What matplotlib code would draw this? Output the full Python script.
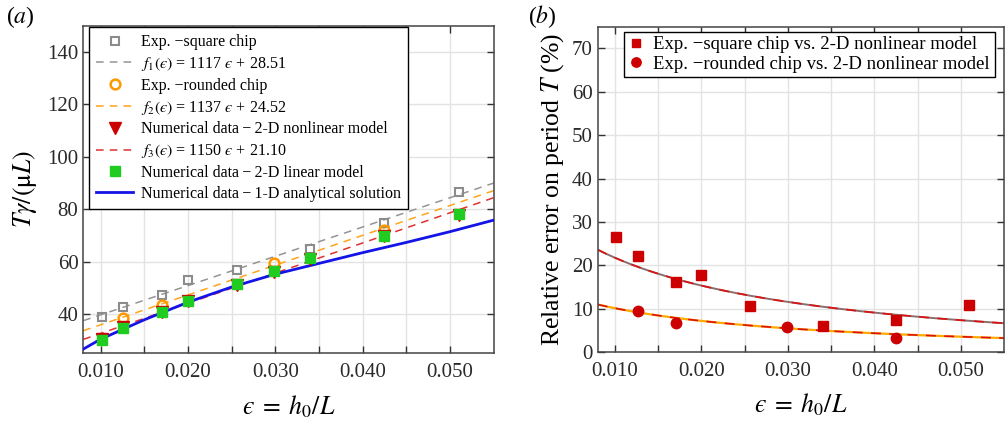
import matplotlib
matplotlib.use("Agg")
import matplotlib.pyplot as plt
import numpy as np

plt.rcParams["font.family"] = ["Liberation Serif", "DejaVu Serif"]
plt.rcParams["mathtext.fontset"] = "stix"

# data
eps_sq = [0.0101, 0.0126, 0.0170, 0.0200, 0.0256, 0.0340, 0.0425, 0.0510]
T_sq = [38.7, 42.8, 47.3, 52.8, 56.7, 64.8, 74.9, 86.5]

eps_rd = [0.0126, 0.0170, 0.0299, 0.0425]
T_rd = [38.4, 43.6, 59.3, 72.0]

eps_num = [0.0101, 0.0126, 0.0170, 0.0200, 0.0256, 0.0299, 0.0340, 0.0425, 0.0510]
T_nonlin = [30.5, 35.0, 40.7, 44.8, 51.2, 56.2, 61.1, 69.7, 77.9]
T_lin = [30.2, 34.8, 40.9, 45.0, 51.3, 56.4, 61.3, 69.8, 78.1]

eps_1d = [0.008, 0.010, 0.015, 0.020, 0.025, 0.030, 0.035, 0.040, 0.045, 0.050, 0.055]
T_1d = [26.6, 30.4, 37.8, 44.5, 50.3, 55.2, 59.3, 63.4, 67.3, 71.4, 75.8]

# linear fits from the legend: slope, intercept
fit_sq = (1117, 28.51)
fit_rd = (1137, 24.52)
fit_nl = (1150, 21.10)

err_sq = [26.5, 22.2, 16.1, 17.8, 10.6, 6.1, 7.4, 10.9]
err_rd = [9.5, 6.7, 5.8, 3.2]

grey = "#8c8c8c"
orange = "#ff9900"
red = "#cc0000"
green = "#1fcc1f"
blue = "#1414e6"
dash = (0, (5, 4))
EPS = "\u03f5"

fig = plt.figure(figsize=(10.08, 4.21), dpi=100)
ax1 = fig.add_axes([0.0826, 0.1608, 0.4070, 0.7781])
ax2 = fig.add_axes([0.5930, 0.1639, 0.4031, 0.7727])

xx = np.linspace(0.008, 0.055, 200)


def f(fit, x):
    return fit[0] * x + fit[1]


def style_axes(ax):
    ax.set_xlim(0.008, 0.055)
    ax.set_xticks([0.01, 0.02, 0.03, 0.04, 0.05])
    ax.set_xticklabels(["0.010", "0.020", "0.030", "0.040", "0.050"])
    ax.set_xticks([0.015, 0.025, 0.035, 0.045], minor=True)
    ax.grid(which="both", color="#e3e3e3", linewidth=1.0)
    ax.set_axisbelow(True)
    ax.tick_params(which="both", direction="in", top=True, right=True,
                   length=5, width=1, color="#333333", labelsize=15,
                   labelcolor="#2a2a2a")
    ax.tick_params(axis="x", which="both", pad=7)
    for s in ax.spines.values():
        s.set_color("#444444")
        s.set_linewidth(1.1)
    ax.set_xlabel("$" + EPS + r"\;=\;h_0/L$", fontsize=18.5, labelpad=8)


# (a)
ax1.plot(eps_sq, T_sq, "s", mfc="none", mec=grey, ms=6, mew=1.5,
         label="Exp. \u2212square chip", zorder=4)
ax1.plot(xx, f(fit_sq, xx), color="#949494", lw=1.1, ls=dash,
         label="$f_1(" + EPS + ")$ = 1117 $" + EPS + "$ + 28.51")
ax1.plot(eps_rd, T_rd, "o", mfc="none", mec=orange, ms=7, mew=1.8,
         label="Exp. \u2212rounded chip", zorder=4)
ax1.plot(xx, f(fit_rd, xx), color="#ffa31a", lw=1.1, ls=dash,
         label="$f_2(" + EPS + ")$ = 1137 $" + EPS + "$ + 24.52")
ax1.plot(eps_num, T_nonlin, "v", color=red, ms=8,
         label="Numerical data\u2009\u2212\u20092-D nonlinear model", zorder=4)
ax1.plot(xx, f(fit_nl, xx), color="#e03030", lw=1.1, ls=dash,
         label="$f_3(" + EPS + ")$ = 1150 $" + EPS + "$ + 21.10")
ax1.plot(eps_num, T_lin, "s", color=green, ms=6.5,
         label="Numerical data\u2009\u2212\u20092-D linear model", zorder=5)
ax1.plot(eps_1d, T_1d, color=blue, lw=2,
         label="Numerical data\u2009\u2212\u20091-D analytical solution", zorder=3)

style_axes(ax1)
ax1.set_ylim(25, 150)
ax1.set_yticks([40, 60, 80, 100, 120, 140])
ax1.set_ylabel(r"$T\gamma/(\mathrm{\mu}L)$", fontsize=18.5, labelpad=6)
leg1 = ax1.legend(loc="upper left", bbox_to_anchor=(0.014, 0.996),
                  borderaxespad=0, fontsize=11.5, fancybox=False,
                  framealpha=1, edgecolor="black", handlelength=2.3,
                  handletextpad=0.5, labelspacing=0.3, borderpad=0.45)
leg1.get_frame().set_linewidth(1.0)

# (b)
ax2.plot(xx, 100 * (f(fit_sq, xx) - f(fit_nl, xx)) / f(fit_nl, xx),
         color="#8c6c6c", lw=1.4, zorder=2)
ax2.plot(xx, 100 * (f(fit_sq, xx) - f(fit_nl, xx)) / f(fit_nl, xx),
         color="#dd1111", lw=1.2, ls=(0, (6, 5)), zorder=2)
ax2.plot(xx, 100 * (f(fit_rd, xx) - f(fit_nl, xx)) / f(fit_nl, xx),
         color="#ffaa00", lw=1.6, zorder=2)
ax2.plot(xx, 100 * (f(fit_rd, xx) - f(fit_nl, xx)) / f(fit_nl, xx),
         color="#dd1111", lw=1.2, ls=(0, (6, 5)), zorder=2)
ax2.plot(eps_sq, err_sq, "s", color=red, ms=6.5,
         label="Exp. \u2212square chip vs. 2-D nonlinear model", zorder=4)
ax2.plot(eps_rd, err_rd, "o", color=red, ms=7.5,
         label="Exp. \u2212rounded chip vs. 2-D nonlinear model", zorder=4)

style_axes(ax2)
ax2.set_ylim(0, 75)
ax2.set_yticks(np.arange(0, 80, 10))
ax2.set_ylabel(r"Relative error on period $T$ (%)", fontsize=18.5, labelpad=4)
leg2 = ax2.legend(loc="upper left", bbox_to_anchor=(0.065, 0.985),
                  borderaxespad=0, fontsize=13.5, fancybox=False,
                  framealpha=1, edgecolor="black", handlelength=0.8,
                  handletextpad=0.5, labelspacing=0.12, borderpad=0.25,
                  markerscale=0.9)
leg2.get_frame().set_linewidth(1.0)

fig.text(0.006, 0.96, r"($a$)", fontsize=17, va="center")
fig.text(0.524, 0.96, r"($b$)", fontsize=17, va="center")

fig.savefig("out.png", dpi=100)
